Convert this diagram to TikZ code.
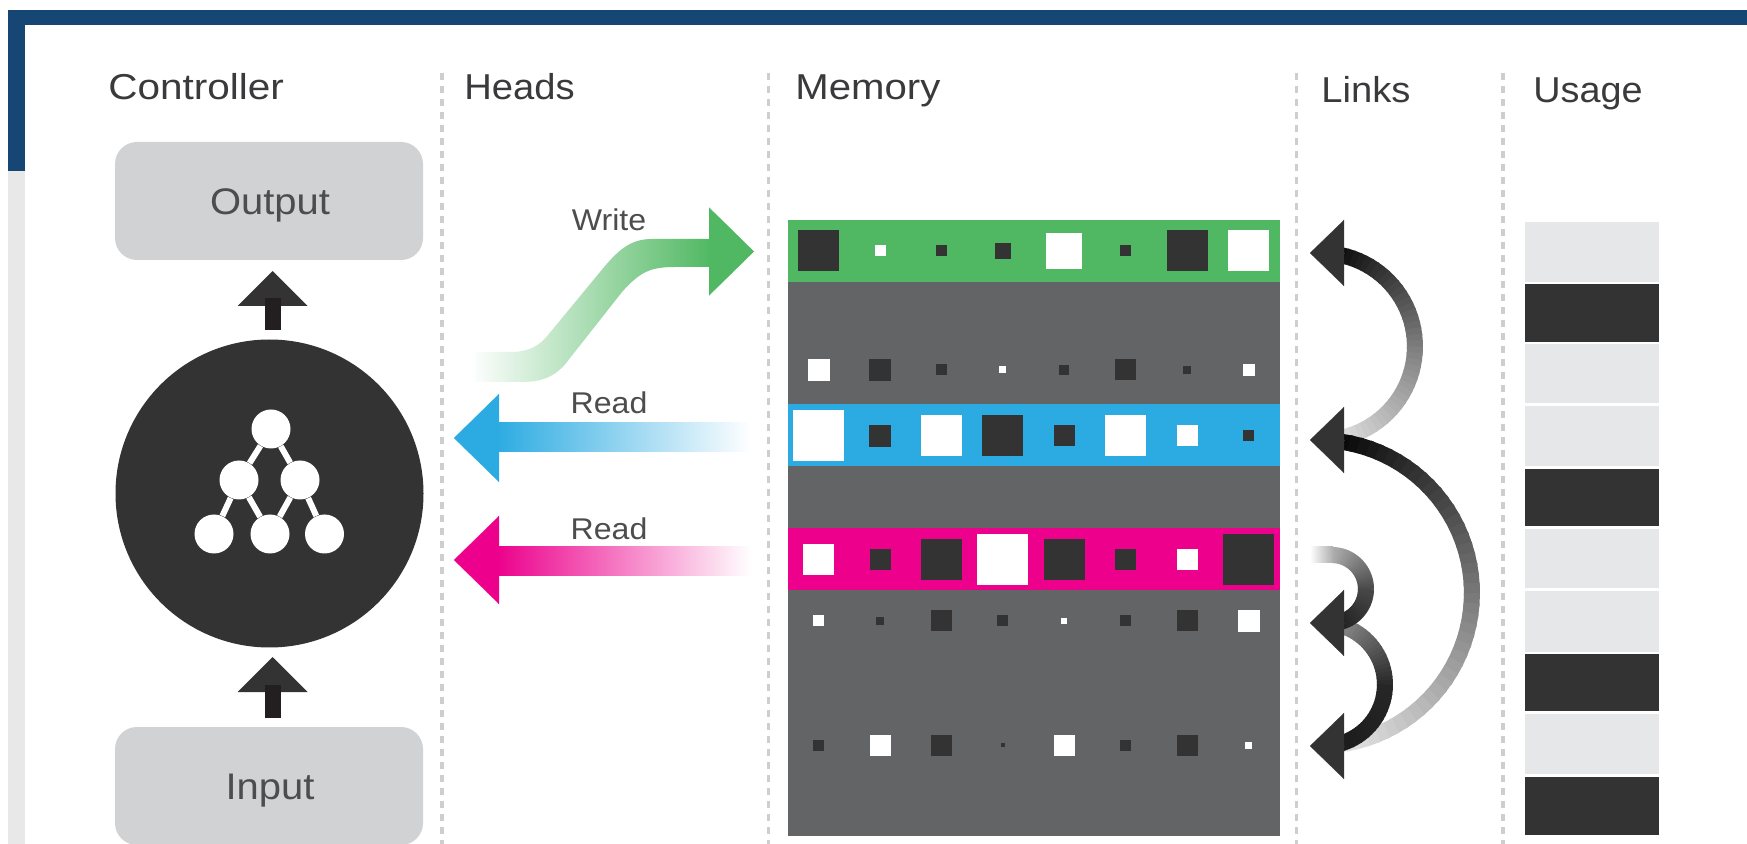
\documentclass[tikz,border=0pt]{standalone}
\usepackage{fontspec}
\setmainfont{Liberation Sans}
\usetikzlibrary{arrows.meta}
\definecolor{navy}{HTML}{164673}
\definecolor{strip}{HTML}{E8E8E9}
\definecolor{boxgray}{HTML}{D1D2D4}
\definecolor{inkdark}{HTML}{333333}
\definecolor{barblack}{HTML}{231F20}
\definecolor{txt}{HTML}{4D4D4F}
\definecolor{head}{HTML}{3A3A3C}
\definecolor{memgray}{HTML}{636466}
\definecolor{mgreen}{HTML}{50B862}
\definecolor{mblue}{HTML}{2CABE2}
\definecolor{mpink}{HTML}{EC008C}
\definecolor{ulight}{HTML}{E6E7E8}
\definecolor{divider}{HTML}{CDCED0}
\definecolor{cellD}{HTML}{333333}
\definecolor{cellW}{HTML}{FFFFFF}
\tikzset{
  coltitle/.style={text=head,font=\fontsize{18}{20}\selectfont,inner sep=0,anchor=base west,xscale=#1},
  boxlabel/.style={text=txt,font=\fontsize{18.5}{20}\selectfont,inner sep=0,xscale=1.08},
  headlabel/.style={text=txt,font=\fontsize{15}{17}\selectfont,inner sep=0,xscale=1.07},
  greybox/.style={fill=boxgray,rounded corners=11pt,inner sep=0,minimum width=154pt,minimum height=59pt},
  dots/.style={draw=divider,line width=1.7pt,dash pattern=on 3.5pt off 3pt},
  netdot/.style={circle,fill=white,inner sep=0,minimum size=19.5pt},
  netedge/.style={draw=white,line width=3pt},
  band/.style={inner sep=0,minimum width=246.25pt,minimum height=31pt},
  cell/.style={inner sep=0,minimum size=#1*0.5pt},
  vshaft/.style={line width=8pt,barblack},
  vtip/.style={line width=8pt,barblack,-{Triangle[length=17.5pt,width=34pt,inkdark]}},
  readtip/.style={line width=0.1pt,-{Triangle[length=22.5pt,width=44pt,#1]},#1},
  linktip/.style={line width=0.1pt,inkdark,-{Triangle[length=17pt,width=33pt,inkdark]}},
}
\newcommand{\memrow}[3]{%
  \foreach \s/\c [count=\i] in {#3}{
    \node[cell=\s,fill=cell\c] (#1-\i) at ({818.7+61.43*(\i-1)},#2) {};
  }}
% half circle stroke with a colour running along it
\newcommand{\gradarc}[6]{% cx cy r top mid bottom (black percentages)
  \foreach \k in {0,...,47}{
    \pgfmathsetmacro{\ta}{90-\k*180/48}
    \pgfmathsetmacro{\tb}{90-(\k+1.35)*180/48}
    \pgfmathsetmacro{\p}{\k<24 ? #4+(#5-#4)*\k/24 : #5+(#6-#5)*(\k-24)/24}
    \draw[line width=8pt,black!\p]
      ({#1+#3*cos(\ta)},{#2-#3*sin(\ta)}) -- ({#1+#3*cos(\tb)},{#2-#3*sin(\tb)});
  }}
\begin{document}
\begin{tikzpicture}[x=0.5pt,y=-0.5pt]
\useasboundingbox (0,0) rectangle (1747,844);
% page frame
\fill[white] (0,0) rectangle (1747,844);
\fill[strip] (8,171) rectangle (25,844);
\fill[navy] (8,10) rectangle (1747,25);
\fill[navy] (8,25) rectangle (25,171);
% dividers
\foreach \x in {442,768.5,1296.5,1503}{ \draw[dots] (\x,73) -- (\x,844); }
% titles
\node[coltitle=1.125] (tController) at (108,100) {Controller};
\node[coltitle=1.06] (tHeads) at (464,100) {Heads};
\node[coltitle=1.115] (tMemory) at (795,100) {Memory};
\node[coltitle=1.06] (tLinks) at (1321,103) {Links};
\node[coltitle=1.05] (tUsage) at (1533,103) {Usage};
% controller
\node[greybox] (output) at (269,201) {};
\node[boxlabel] (outputtext) at (270,205) {Output};
\node[greybox] (input) at (269,786) {};
\node[boxlabel] (inputtext) at (270,791) {Input};
\node[circle,fill=inkdark,inner sep=0,minimum size=154pt] (ctrl) at (269.5,493.5) {};
\coordinate (upS) at (272.6,330);
\coordinate (upT) at (272.6,271);
\coordinate (upM) at (272.6,298);
\draw[vtip] (upS) -- (upT);
\draw[vshaft] (upS) -- (upM);
\coordinate (inS) at (272.6,718);
\coordinate (inT) at (272.6,657);
\coordinate (inM) at (272.6,685);
\draw[vtip] (inS) -- (inT);
\draw[vshaft] (inS) -- (inM);
% network icon
\node[netdot] (n1) at (271,429) {};
\node[netdot] (n2) at (239,480) {};
\node[netdot] (n3) at (300,480) {};
\node[netdot] (n4) at (214,534) {};
\node[netdot] (n5) at (270,534) {};
\node[netdot] (n6) at (324.5,534) {};
\draw[netedge] (n1) -- (n2);
\draw[netedge] (n1) -- (n3);
\draw[netedge] (n2) -- (n4);
\draw[netedge] (n2) -- (n5);
\draw[netedge] (n3) -- (n5);
\draw[netedge] (n3) -- (n6);
% write head
\shade[left color=white,right color=mgreen]
  (470,352) -- (510,352) .. controls (530,352) and (540,345) .. (548,335)
  -- (600,272) .. controls (618,250) and (630,239) .. (652,239) -- (712,239)
  -- (712,267) -- (675,267) .. controls (650,267) and (640,272) .. (622,292)
  -- (570,358) .. controls (560,372) and (548,382) .. (522,382) -- (470,382) -- cycle;
\coordinate (wB) at (709,251.5);
\coordinate (wT) at (754,251.5);
\draw[readtip=mgreen] (wB) -- (wT);
\node[headlabel] (lWrite) at (609,220) {Write};
% read heads
\shade[left color=mblue,right color=white] (496,423) rectangle (751,452);
\coordinate (rbB) at (498.5,438);
\coordinate (rbT) at (454,438);
\draw[readtip=mblue] (rbB) -- (rbT);
\node[headlabel] (lRead1) at (609,403) {Read};
\shade[left color=mpink,right color=white] (496,547) rectangle (751,576);
\coordinate (rpB) at (498.5,560);
\coordinate (rpT) at (454,560);
\draw[readtip=mpink] (rpB) -- (rpT);
\node[headlabel] (lRead2) at (609,529) {Read};
% memory
\fill[memgray] (787.5,220) rectangle (1280,836);
\node[band,fill=mgreen] (bgreen) at (1033.75,251) {};
\node[band,fill=mblue] (bblue) at (1033.75,435) {};
\node[band,fill=mpink] (bpink) at (1033.75,559) {};
\memrow{a}{251}{41/D,11/W,11/D,16/D,36/W,11/D,41/D,41/W}
\memrow{b}{370}{22/W,22/D,11/D,7/W,10/D,21/D,8/D,12/W}
\memrow{c}{436}{51/W,22/D,41/W,41/D,21/D,41/W,21/W,11/D}
\memrow{d}{559.5}{31/W,21/D,41/D,51/W,41/D,21/D,21/W,51/D}
\memrow{e}{621}{11/W,8/D,21/D,11/D,6/W,11/D,21/D,22/W}
\memrow{f}{745}{11/D,21/W,21/D,4/D,21/W,11/D,21/D,7/W}
% links
\begin{scope}
\clip (1332,0) rectangle (1747,844);
\gradarc{1321.5}{346.5}{93.5}{100}{50}{6}
\gradarc{1319}{593}{153}{100}{52}{4}
\gradarc{1323.5}{684.5}{61.5}{38}{85}{90}
\gradarc{1332}{589}{34}{32}{72}{90}
\end{scope}
\shade[left color=white,right color=black!32] (1310,547) rectangle (1333,563);
\coordinate (h1a) at (1344,253); \coordinate (h1b) at (1310,253);
\coordinate (h2a) at (1344,440); \coordinate (h2b) at (1310,440);
\coordinate (h3a) at (1344,623); \coordinate (h3b) at (1310,623);
\coordinate (h4a) at (1344,746); \coordinate (h4b) at (1310,746);
\draw[linktip] (h1a) -- (h1b);
\draw[linktip] (h2a) -- (h2b);
\draw[linktip] (h3a) -- (h3b);
\draw[linktip] (h4a) -- (h4b);
% usage
\foreach \n/\ya/\yb/\c in {1/222.5/282/ulight,2/284/342/inkdark,3/344.5/403/ulight,4/406/466/ulight,5/469/526.5/inkdark,6/529/588/ulight,7/591/652/ulight,8/654/711/inkdark,9/714/774/ulight,10/776.5/835/inkdark}{
  \fill[\c] (1525,\ya) rectangle (1659,\yb);
}
\end{tikzpicture}
\end{document}
